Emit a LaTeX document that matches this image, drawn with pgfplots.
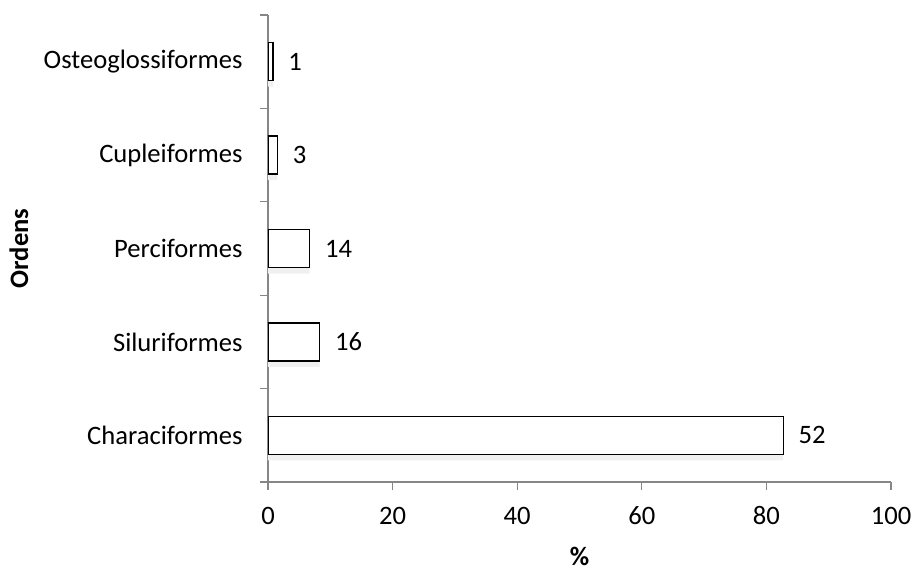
\documentclass[border=0pt]{standalone}
\usepackage{pgfplots}
\pgfplotsset{compat=1.18}
\usepackage{pgfplotstable}
\usepackage{fontspec}
\usetikzlibrary{shadows}
\setmainfont{Carlito}
\definecolor{axisgray}{HTML}{868686}

% share = percentage (bar length), species = number shown beside each bar
\pgfplotstableread{
pos share species
0 82.7 52
1 8.3 16
2 6.7 14
3 1.5 3
4 0.8 1
}\ordens

\begin{document}
\fontsize{13.3}{16}\selectfont
\begin{tikzpicture}
\begin{axis}[
  name=ax,
  scale only axis,
  width=311.5pt, height=233.5pt,
  xmin=0, xmax=100, ymin=-0.5, ymax=4.5,
  xtick={0,20,...,100},
  ytick={-0.5,0.5,...,4.5},
  yticklabels={,,,,,,},
  extra y ticks={0,1,2,3,4},
  extra y tick labels={Characiformes,Siluriformes,Perciformes,Cupleiformes,Osteoglossiformes},
  extra y tick style={tick style={draw=none}},
  axis x line*=bottom, axis y line*=left,
  axis line style={draw=axisgray, -, line width=0.6pt},
  tick style={draw=axisgray, line width=0.6pt},
  tick align=outside,
  major tick length=4pt,
  /pgf/number format/assume math mode=true,
  yticklabel style={inner sep=0pt, xshift=-8.5pt},
  xticklabel style={inner sep=0pt, anchor=base, yshift=-17pt},
  xlabel={\textbf{\%}},
  ylabel={\textbf{Ordens}},
  every axis x label/.style={at={(axis description cs:0.5,0)}, anchor=center, yshift=-37pt},
  every axis y label/.style={at={(axis description cs:0,0.5)}, anchor=center, xshift=-124.5pt, rotate=90},
]
\addplot[xbar, bar width=19pt, draw=black, fill=white, line width=0.6pt,
  drop shadow={shadow xshift=0pt, shadow yshift=-3pt, draw=none, fill=black!6, opacity=1},
  nodes near coords, point meta=explicit symbolic,
  every node near coord/.append style={anchor=west, xshift=3pt, text=black}]
  table[x=share, y=pos, meta=species] {\ordens};
\end{axis}
\path ([shift={(-134pt,-41.5pt)}]ax.south west) rectangle ([shift={(11pt,7.5pt)}]ax.north east);
\end{tikzpicture}
\end{document}
